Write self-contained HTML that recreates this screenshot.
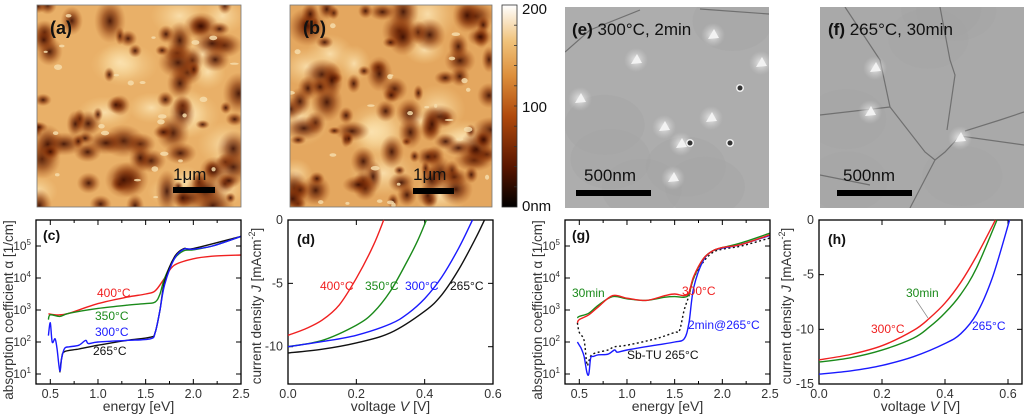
<!DOCTYPE html>
<html><head><meta charset="utf-8">
<style>
html,body{margin:0;padding:0;background:#fff;}
body{width:1024px;height:417px;overflow:hidden;position:relative;font-family:"Liberation Sans",Arial,sans-serif;}
svg{position:absolute;left:0;top:0;}
</style></head>
<body>
<svg id="fig" width="1024" height="417" viewBox="0 0 1024 417" xmlns="http://www.w3.org/2000/svg">
<defs>
<radialGradient id="dk"><stop offset="0" stop-color="#3a0c00" stop-opacity="0.9"/><stop offset="0.45" stop-color="#7a2a05" stop-opacity="0.6"/><stop offset="1" stop-color="#b0561a" stop-opacity="0"/></radialGradient>
<radialGradient id="lt"><stop offset="0" stop-color="#fbe2b0" stop-opacity="0.9"/><stop offset="1" stop-color="#f5cf8a" stop-opacity="0"/></radialGradient>
<radialGradient id="sl"><stop offset="0" stop-color="#eeeeee" stop-opacity="0.95"/><stop offset="1" stop-color="#cfcfcf" stop-opacity="0"/></radialGradient>
<linearGradient id="cbar" x1="0" y1="1" x2="0" y2="0">
<stop offset="0" stop-color="#000"/><stop offset="0.2" stop-color="#5a1600"/><stop offset="0.45" stop-color="#b04a0c"/><stop offset="0.65" stop-color="#dd8f3c"/><stop offset="0.82" stop-color="#f0c27a"/><stop offset="1" stop-color="#ffffff"/>
</linearGradient>
<clipPath id="clipA"><rect x="37" y="5" width="204" height="202"/></clipPath>
<clipPath id="clipB"><rect x="290" y="5" width="202" height="202"/></clipPath>
<clipPath id="clipE"><rect x="565" y="7" width="204" height="201"/></clipPath>
<clipPath id="clipF"><rect x="820" y="7" width="204" height="201"/></clipPath>
</defs>
<g id="afmA" clip-path="url(#clipA)"><rect x="37" y="5" width="204" height="202" fill="#e9b068"/></g>
<g id="afmB" clip-path="url(#clipB)"><rect x="290" y="5" width="202" height="202" fill="#e4a75f"/></g>
<rect x="37" y="5" width="204" height="202" fill="none" stroke="#777" stroke-width="0.8"/>
<rect x="290" y="5" width="202" height="202" fill="none" stroke="#777" stroke-width="0.8"/>
<text x="50" y="34" font-size="18" font-weight="bold" fill="#111">(a)</text>
<text x="303" y="34" font-size="18" font-weight="bold" fill="#111">(b)</text>
<text x="173" y="180" font-size="17" fill="#111">1μm</text>
<rect x="173" y="187" width="42" height="6" fill="#000"/>
<text x="413" y="180" font-size="17" fill="#111">1μm</text>
<rect x="413" y="188" width="41" height="6" fill="#000"/>
<g>
<rect x="502" y="5" width="15" height="202" fill="url(#cbar)" stroke="#333" stroke-width="0.8"/>
<g id="cbticks"></g>
<text x="522" y="14" font-size="15" fill="#111">200</text>
<text x="522" y="112" font-size="15" fill="#111">100</text>
<text x="522" y="211" font-size="15" fill="#111">0nm</text>
</g>
<g id="semE" clip-path="url(#clipE)"><rect x="565" y="7" width="204" height="201" fill="#adadad"/></g>
<g id="semF" clip-path="url(#clipF)"><rect x="820" y="7" width="204" height="201" fill="#a9a9a9"/></g>
<text x="572" y="35" font-size="17" fill="#111"><tspan font-weight="bold">(e)</tspan> 300°C, 2min</text>
<text x="828" y="35" font-size="17" fill="#111"><tspan font-weight="bold">(f)</tspan> 265°C, 30min</text>
<text x="584" y="181" font-size="17" fill="#111">500nm</text>
<rect x="576" y="190" width="75" height="6" fill="#000"/>
<text x="843" y="181" font-size="17" fill="#111">500nm</text>
<rect x="837" y="190" width="75" height="6" fill="#000"/>
<g id="charts"></g>
</svg>
<script>
// ---------- chart data ----------
const cE400=[0.48,0.55,0.6,0.7,1.0,1.3,1.5,1.6,1.7,1.8,2.0,2.2,2.5];
const cA400=[2.88,2.85,2.85,2.9,3.2,3.4,3.5,3.6,4.0,4.4,4.6,4.68,4.72];
const cE350=[0.48,0.5,0.6,0.7,1.0,1.3,1.5,1.6,1.65,1.7,1.8,1.9,2.0,2.2,2.5];
const cA350=[2.7,2.85,2.8,2.9,3.05,3.15,3.2,3.25,3.5,4.0,4.6,4.85,4.88,5.0,5.3];
const cE300=[0.48,0.5,0.52,0.55,0.57,0.6,0.62,0.65,0.7,0.8,0.87,0.9,1.0,1.3,1.55,1.6,1.65,1.7,1.8,1.9,2.0,2.2,2.5];
const cA300=[2.2,2.6,2.0,2.1,1.8,1.1,1.5,1.8,1.85,1.9,2.05,1.95,2.0,2.05,2.1,2.3,3.0,3.8,4.6,4.9,4.9,5.0,5.3];
const cE265=[0.6,0.62,0.65,0.8,1.0,1.3,1.55,1.6,1.65,1.7,1.8,1.9,2.0,2.5];
const cA265=[1.05,1.5,1.7,1.78,1.9,2.05,2.15,2.3,3.0,3.9,4.65,4.92,4.92,5.3];
const dV400=[0,0.05,0.1,0.15,0.2,0.25,0.28];
const dJ400=[-9.1,-8.6,-7.9,-6.7,-4.6,-2.0,0];
const dV350=[0,0.1,0.2,0.25,0.3,0.35,0.38,0.405];
const dJ350=[-10,-9.5,-8.3,-7.3,-5.6,-3.2,-1.6,0];
const dV300=[0,0.1,0.2,0.3,0.35,0.4,0.45,0.5,0.54];
const dJ300=[-10,-9.6,-9.1,-8.2,-7.4,-6.2,-4.5,-2.2,0];
const dV265=[0,0.1,0.2,0.3,0.4,0.45,0.5,0.55,0.575];
const dJ265=[-10.5,-10.2,-9.7,-8.9,-7.2,-5.9,-3.9,-1.4,0];
const gE30=[0.48,0.5,0.6,0.7,0.85,1.0,1.2,1.4,1.5,1.6,1.65,1.7,1.8,1.9,2.0,2.2,2.5];
const gA30=[2.75,2.8,2.9,3.15,3.42,3.35,3.3,3.4,3.42,3.4,3.5,4.0,4.6,4.85,4.95,5.1,5.4];
const gE300=[0.48,0.5,0.6,0.7,0.85,1.0,1.2,1.4,1.5,1.6,1.65,1.7,1.8,1.9,2.0,2.2,2.5];
const gA300=[2.6,2.7,2.85,3.1,3.45,3.37,3.3,3.45,3.5,3.45,3.55,4.05,4.6,4.85,4.95,5.05,5.35];
const gE2=[0.48,0.5,0.52,0.55,0.58,0.6,0.62,0.65,0.7,0.8,0.87,0.9,1.0,1.3,1.5,1.6,1.65,1.7,1.8,1.9,2.0,2.2,2.5];
const gA2=[2.0,1.9,1.8,1.55,1.05,1.0,1.5,1.55,1.6,1.62,1.75,1.68,1.75,1.9,2.0,2.1,2.6,3.7,4.55,4.85,4.93,5.05,5.33];
const gESb=[0.48,0.5,0.55,0.58,0.6,0.63,0.7,0.8,0.87,1.0,1.3,1.5,1.55,1.6,1.65,1.7,1.8,1.9,2.0,2.2,2.5];
const gASb=[2.6,2.3,2.05,1.3,1.4,1.6,1.68,1.75,1.85,1.9,2.1,2.3,2.35,3.0,3.45,4.0,4.5,4.8,4.9,5.0,5.25];
const hV300=[0,0.1,0.2,0.3,0.35,0.4,0.45,0.5,0.56];
const hJ300=[-12.8,-12.3,-11.5,-10.1,-9.0,-7.6,-5.7,-3.3,0];
const hV30=[0,0.1,0.2,0.3,0.35,0.4,0.45,0.5,0.565];
const hJ30=[-13,-12.6,-11.9,-10.8,-9.8,-8.5,-6.8,-4.4,0];
const hV265=[0,0.1,0.2,0.3,0.4,0.45,0.5,0.55,0.605];
const hJ265=[-14.1,-13.8,-13.3,-12.5,-11.3,-10.4,-8.6,-5.3,0];
const eTicks=[0.5,1.0,1.5,2.0,2.5];
const logTicks=[1,2,3,4,5];
const vTicksD=[0.0,0.2,0.4,0.6];
const jTicksD=[0,-5,-10];
const vTicksH=[0.0,0.2,0.4,0.6];
const jTicksH=[0,-5,-10,-15];

const NS="http://www.w3.org/2000/svg";
const root=document.getElementById('charts');
function mk(tag,attrs,parent){const e=document.createElementNS(NS,tag);for(const k in attrs)e.setAttribute(k,attrs[k]);(parent||root).appendChild(e);return e;}
function lin(d0,d1,r0,r1){return v=>r0+(v-d0)/(d1-d0)*(r1-r0);}
function smooth(pts){let d='M'+pts[0][0].toFixed(1)+','+pts[0][1].toFixed(1);
 for(let i=0;i<pts.length-1;i++){const p0=pts[Math.max(0,i-1)],p1=pts[i],p2=pts[i+1],p3=pts[Math.min(pts.length-1,i+2)];
 const c1=[p1[0]+(p2[0]-p0[0])/6,p1[1]+(p2[1]-p0[1])/6],c2=[p2[0]-(p3[0]-p1[0])/6,p2[1]-(p3[1]-p1[1])/6];
 d+=' C'+c1[0].toFixed(1)+','+c1[1].toFixed(1)+' '+c2[0].toFixed(1)+','+c2[1].toFixed(1)+' '+p2[0].toFixed(1)+','+p2[1].toFixed(1);}
 return d;}
function series(g,xs,ys,X,Y,color,name,dash){
 const pts=xs.map((x,i)=>[X(x),Y(ys[i])]);
 const p=mk('path',{d:smooth(pts),fill:'none',stroke:color,'stroke-width':1.4},g);
 if(dash)p.setAttribute('stroke-dasharray',dash);
 
 
}
function txt(g,x,y,s,opts){const t=mk('text',Object.assign({x:x,y:y,'font-size':12.5,fill:'#333'},opts||{}),g);t.textContent=s;return t;}
function axesBox(g,L,T,R,B){const r=mk('rect',{x:L,y:T,width:R-L,height:B-T,fill:'none',stroke:'#000','stroke-width':1.3},g);
 }

function absPanel(ox,label,ytitleX){
 const L=36+ox,R=241+ox,T=220,B=384;
 const X=lin(0.35,2.5,L,R), Y=lin(5,1,246,374);
 const g=mk('g',{});
 
 
 return {g,X,Y,L,R,T,B,ytitleX};
}
function drawAbsAxes(P,label){
 const {g,X,Y,L,R,T,B}=P;
 eTicks.forEach(v=>{mk('line',{x1:X(v),x2:X(v),y1:B,y2:B-5,stroke:'#000','stroke-width':1},g);mk('line',{x1:X(v),x2:X(v),y1:T,y2:T+5,stroke:'#000','stroke-width':1},g);
  const t=txt(g,X(v),B+14,v.toFixed(1),{'text-anchor':'middle','font-size':12.5});});
 eTicks.slice(0,-1).forEach(v=>{const m=v+0.25;mk('line',{x1:X(m),x2:X(m),y1:B,y2:B-3,stroke:'#000'},g);mk('line',{x1:X(m),x2:X(m),y1:T,y2:T+3,stroke:'#000'},g);});
 logTicks.forEach(v=>{mk('line',{x1:L,x2:L+5,y1:Y(v),y2:Y(v),stroke:'#000'},g);mk('line',{x1:R,x2:R-5,y1:Y(v),y2:Y(v),stroke:'#000'},g);
  const t=mk('text',{x:L-5,y:Y(v)+4,'font-size':12,'text-anchor':'end',fill:'#333'},g);t.textContent='10';
  const s=mk('tspan',{dy:-5,'font-size':8},t);s.textContent=v;
  });
 axesBox(g,L,T,R,B);
 const xt=txt(g,(L+R)/2,B+27,'energy [eV]',{'text-anchor':'middle','font-size':14});
 const yt=txt(g,0,0,'absorption coefficient α [1/cm]',{'text-anchor':'middle','font-size':13.5,transform:'translate('+P.ytitleX+','+((T+B)/2+8)+') rotate(-90)'});
 
 const pl=txt(g,L+7,T+20,'('+label+')',{'font-weight':'bold','font-size':14,fill:'#111'});
}
function jvPanel(L,R,vmax,jmin,jpx0,vTicks,jTicks,label,ytitleX){
 const T=220,B=384;
 const X=lin(0,vmax,L,R); const Y=lin(0,jmin,T,jpx0);
 const g=mk('g',{});
 
 
 vTicks.forEach(v=>{mk('line',{x1:X(v),x2:X(v),y1:B,y2:B-5,stroke:'#000'},g);mk('line',{x1:X(v),x2:X(v),y1:T,y2:T+5,stroke:'#000'},g);
  const t=txt(g,X(v),B+14,v.toFixed(1),{'text-anchor':'middle'});});
 jTicks.forEach(v=>{mk('line',{x1:L,x2:L+5,y1:Y(v),y2:Y(v),stroke:'#000'},g);mk('line',{x1:R,x2:R-5,y1:Y(v),y2:Y(v),stroke:'#000'},g);
  const t=txt(g,L-5,Y(v)+4,String(v),{'text-anchor':'end'});});
 axesBox(g,L,T,R,B);
 const xt=mk('text',{x:(L+R)/2,y:B+27,'font-size':14,'text-anchor':'middle',fill:'#333'},g);
 xt.innerHTML='voltage <tspan font-style="italic">V</tspan> [V]';
 
 const yt=mk('text',{'font-size':13.5,'text-anchor':'middle',fill:'#333',transform:'translate('+ytitleX+','+((T+B)/2+4)+') rotate(-90)'},g);
 yt.innerHTML='current density <tspan font-style="italic">J</tspan> [mAcm<tspan dy="-6" font-size="9">-2</tspan><tspan dy="6">]</tspan>';
 
 const pl=txt(g,L+9,T+24,'('+label+')',{'font-weight':'bold','font-size':14,fill:'#111'});
 return {g,X,Y};
}
const RED='#f02020',GRN='#1a8a1a',BLU='#1a1aff',BLK='#111';
const C=absPanel(0,'c',13);
series(C.g,cE400,cA400,C.X,C.Y,RED,'line-400C');
series(C.g,cE350,cA350,C.X,C.Y,GRN,'line-350C');
series(C.g,cE265,cA265,C.X,C.Y,BLK,'line-265C');
series(C.g,cE300,cA300,C.X,C.Y,BLU,'line-300C');
drawAbsAxes(C,'c');
txt(C.g,97,297,'400°C',{fill:RED,'font-size':12});
txt(C.g,95,320,'350°C',{fill:GRN,'font-size':12});
txt(C.g,95,336,'300°C',{fill:BLU,'font-size':12});
txt(C.g,93,355,'265°C',{fill:BLK,'font-size':12});
const D=jvPanel(288,493,0.6,-10,346.7,vTicksD,jTicksD,'d',261);
series(D.g,dV400,dJ400,D.X,D.Y,RED,'line-400C');
series(D.g,dV350,dJ350,D.X,D.Y,GRN,'line-350C');
series(D.g,dV300,dJ300,D.X,D.Y,BLU,'line-300C');
series(D.g,dV265,dJ265,D.X,D.Y,BLK,'line-265C');
txt(D.g,320,290,'400°C',{fill:RED,'font-size':12});
txt(D.g,365,290,'350°C',{fill:GRN,'font-size':12});
txt(D.g,405,290,'300°C',{fill:BLU,'font-size':12});
txt(D.g,450,290,'265°C',{fill:BLK,'font-size':12});
const G=absPanel(529,'g',542);
series(G.g,gESb,gASb,G.X,G.Y,BLK,'line-sb-tu-265C','2,2.5');
series(G.g,gE2,gA2,G.X,G.Y,BLU,'line-2min-265C');
series(G.g,gE30,gA30,G.X,G.Y,GRN,'line-30min');
series(G.g,gE300,gA300,G.X,G.Y,RED,'line-300C');
drawAbsAxes(G,'g');
txt(G.g,572,297,'30min',{fill:GRN,'font-size':12});
txt(G.g,682,295,'300°C',{fill:RED,'font-size':12});
txt(G.g,688,329,'2min@265°C',{fill:BLU,'font-size':12});
txt(G.g,627,359,'Sb-TU 265°C',{fill:BLK,'font-size':12});
const H=jvPanel(819,1022,0.6*203/189,-15,384,vTicksH,jTicksH,'h',791);
series(H.g,hV300,hJ300,H.X,H.Y,RED,'line-300C');
series(H.g,hV30,hJ30,H.X,H.Y,GRN,'line-30min');
series(H.g,hV265,hJ265,H.X,H.Y,BLU,'line-265C');
txt(H.g,871,333,'300°C',{fill:RED,'font-size':12});
txt(H.g,906,297,'30min',{fill:GRN,'font-size':12});
mk('line',{x1:916,y1:300,x2:928,y2:318,stroke:'#888','stroke-width':0.7},H.g);
txt(H.g,972,330,'265°C',{fill:BLU,'font-size':12});

// ---------- image textures (decorative) ----------
let seed=7;function rnd(){seed=(seed*16807)%2147483647;return seed/2147483647;}
function afm(id,x0,y0,w,h,n){const g=document.getElementById(id);
 for(let i=0;i<16;i++){mk('ellipse',{cx:x0+rnd()*w,cy:y0+rnd()*h,rx:15+rnd()*20,ry:12+rnd()*18,fill:'url(#lt)'},g);}
 for(let i=0;i<n;i++){const r=5+rnd()*10;mk('ellipse',{cx:x0+rnd()*w,cy:y0+rnd()*h,rx:r*(0.8+rnd()*0.8),ry:r*(0.8+rnd()*0.8),fill:'url(#dk)'},g);}
 for(let i=0;i<25;i++){mk('ellipse',{cx:x0+rnd()*w,cy:y0+rnd()*h,rx:1.5+rnd()*3,ry:1+rnd()*2,fill:'#f6dcaa',opacity:0.85},g);}
}
afm('afmA',37,5,204,202,80);
afm('afmB',290,5,202,202,95);
const cb=document.getElementById('cbticks');
for(let i=1;i<10;i++){mk('line',{x1:514,x2:517,y1:5+i*20.2,y2:5+i*20.2,stroke:'#333','stroke-width':0.8},cb);}
function sem(id,x0,y0,w,h,lines,spots,holes){const g=document.getElementById(id);
 for(let i=0;i<6;i++){mk('ellipse',{cx:x0+rnd()*w,cy:y0+rnd()*h,rx:40,ry:30,fill:'#a2a2a2',opacity:0.3},g);}
 lines.forEach(l=>mk('polyline',{points:l,fill:'none',stroke:'#707070','stroke-width':1.2},g));
 spots.forEach(s=>{mk('circle',{cx:s[0],cy:s[1],r:12,fill:'url(#sl)'},g);mk('path',{d:'M'+(s[0]-5)+','+(s[1]+4)+' l6,-10 l5,9 z',fill:'#f2f2f2'},g);});
 holes.forEach(s=>{mk('circle',{cx:s[0],cy:s[1],r:4,fill:'#eee'},g);mk('circle',{cx:s[0],cy:s[1],r:2.5,fill:'#333'},g);});
}
sem('semE',565,7,204,201,['565,52 590,30 640,10','700,9 769,14'],[[636,60],[713,35],[580,99],[711,118],[664,127],[681,144],[673,178],[761,63]],[[740,88],[690,143],[730,143]]);
sem('semF',820,7,204,201,['845,7 880,60 890,107 925,152 935,160 945,152 960,136 1024,145','890,107 820,115','935,160 910,208','940,7 950,60 955,75 947,130','820,175 870,185','1024,112 1000,120 965,131'],[[875,68],[870,112],[960,138]],[]);
</script>
</body></html>
